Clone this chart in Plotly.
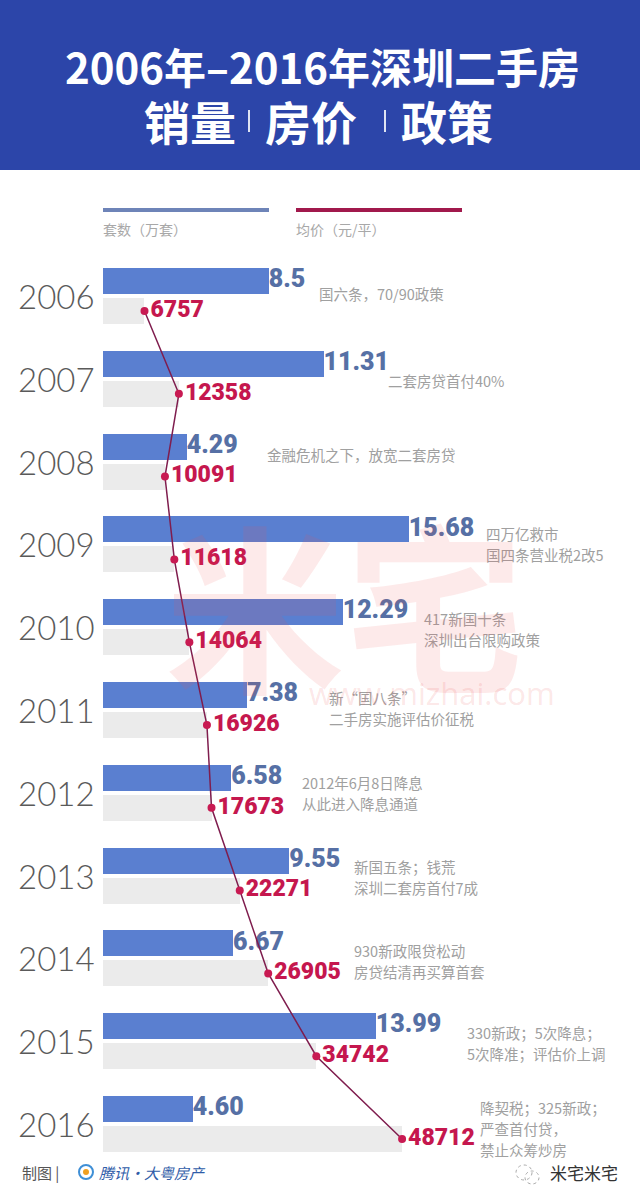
import plotly.graph_objects as go

W, H = 640, 1203

# ---------------- data ----------------
years = [2006, 2007, 2008, 2009, 2010, 2011, 2012, 2013, 2014, 2015, 2016]
year_labels = ["2006", "2007", "2008", "2009", "2010", "2011", "2012", "2013", "2014", "2015", "2016"]
sales = [8.5, 11.31, 4.29, 15.68, 12.29, 7.38, 6.58, 9.55, 6.67, 13.99, 4.60]
sales_labels = ["8.5", "11.31", "4.29", "15.68", "12.29", "7.38", "6.58", "9.55", "6.67", "13.99", "4.60"]
prices = [6757, 12358, 10091, 11618, 14064, 16926, 17673, 22271, 26905, 34742, 48712]
price_labels = ["6757", "12358", "10091", "11618", "14064", "16926", "17673", "22271", "26905", "34742", "48712"]
policies = [
    ["国六条，70/90政策"],
    ["二套房贷首付40%"],
    ["金融危机之下，放宽二套房贷"],
    ["四万亿救市", "国四条营业税2改5"],
    ["417新国十条", "深圳出台限购政策"],
    ["新“国八条”", "二手房实施评估价征税"],
    ["2012年6月8日降息", "从此进入降息通道"],
    ["新国五条；钱荒", "深圳二套房首付7成"],
    ["930新政限贷松动", "房贷结清再买算首套"],
    ["330新政；5次降息；", "5次降准；评估价上调"],
    ["降契税；325新政；", "严查首付贷，", "禁止众筹炒房"],
]
title_line1 = "2006年–2016年深圳二手房"
title_parts = ["销量", "房价", "政策"]
legend_labels = ["套数（万套）", "均价（元/平）"]

# ---------------- layout helpers ----------------
def px(x):
    return x / W

def py(y):
    return 1 - y / H

ROW0, ROWSTEP = 296, 82.8          # pixel centre of first row, row spacing
Y_TOP = 2006 - ROW0 / ROWSTEP
Y_BOT = 2006 + (H - ROW0) / ROWSTEP
ORIGIN = 103                       # pixel of the zero of both value axes
SALES_PX = 19.5                    # px per 万套
PRICE_PX = 0.00614                 # px per 元/平

BAR_W = 26 / ROWSTEP
BLUE_OFF = -28 / ROWSTEP
GREY_OFF = 2 / ROWSTEP

policy_x = [317, 386, 265, 484, 422, 327, 300, 352, 352, 465, 478]
policy_dy = [-3, 2, -7, -11, -9, -13, -10, -9, -8, -9, -17]

NUMF = "Roboto, Inter, sans-serif"
CJK = "Noto Sans CJK SC, sans-serif"

fig = go.Figure()

# blue bars (sales)
fig.add_trace(go.Bar(
    orientation="h", y=years, x=sales, width=BAR_W, offset=BLUE_OFF,
    marker=dict(color="#5a7fd0", line=dict(width=0)),
    xaxis="x", yaxis="y", hoverinfo="skip",
))
# grey bars (price)
fig.add_trace(go.Bar(
    orientation="h", y=years, x=prices, width=BAR_W, offset=GREY_OFF,
    marker=dict(color="#ebebeb", line=dict(width=0)),
    xaxis="x2", yaxis="y", hoverinfo="skip",
))
# sales value labels
fig.add_trace(go.Scatter(
    x=sales, y=[yr + BLUE_OFF + BAR_W / 2 for yr in years], mode="text",
    text=sales_labels, textposition="middle right",
    textfont=dict(family=NUMF, size=25, color="#5670a5", weight=900),
    xaxis="x", yaxis="y", cliponaxis=False, hoverinfo="skip",
))
# price line with dots + labels
fig.add_trace(go.Scatter(
    x=prices, y=[yr + GREY_OFF + BAR_W / 2 for yr in years], mode="lines+markers+text",
    line=dict(color="#7f1d4e", width=1.5),
    marker=dict(color="#c81a52", size=8),
    text=price_labels, textposition="middle right",
    textfont=dict(family=NUMF, size=23, color="#c5174e", weight=900),
    xaxis="x2", yaxis="y", cliponaxis=False, hoverinfo="skip",
))

annotations = []
shapes = []

# header band
shapes.append(dict(type="rect", xref="paper", yref="paper", x0=0, x1=1, y0=py(170), y1=1,
                   fillcolor="#2c45a9", line=dict(width=0), layer="below"))
annotations.append(dict(text=title_line1, xref="paper", yref="paper", x=px(322), y=py(65),
                        showarrow=False, xanchor="center", yanchor="middle",
                        font=dict(family=CJK, size=42, color="white", weight="bold")))
for t, cx in zip(title_parts, [190, 311, 447]):
    annotations.append(dict(text=t, xref="paper", yref="paper", x=px(cx), y=py(120),
                            showarrow=False, xanchor="center", yanchor="middle",
                            font=dict(family=CJK, size=46, color="white", weight="bold")))
for sx in [249, 385]:
    shapes.append(dict(type="line", xref="paper", yref="paper", x0=px(sx), x1=px(sx),
                       y0=py(110), y1=py(132), line=dict(color="rgba(255,255,255,0.85)", width=2)))

# legend
for (x0, x1, col), lab in zip([(103, 269, "#6e84b8"), (296, 462, "#a1194c")], legend_labels):
    shapes.append(dict(type="line", xref="paper", yref="paper", x0=px(x0), x1=px(x1),
                       y0=py(210), y1=py(210), line=dict(color=col, width=4)))
    annotations.append(dict(text=lab, xref="paper", yref="paper", x=px(x0 - 2), y=py(229),
                            showarrow=False, xanchor="left", yanchor="middle",
                            font=dict(family=CJK, size=14, color="#a8a8a8")))

# year labels
for yr, lab in zip(years, year_labels):
    annotations.append(dict(text=lab, xref="paper", yref="y", x=px(97), y=yr,
                            showarrow=False, xanchor="right", yanchor="middle",
                            font=dict(family="Lato, Open Sans, sans-serif", size=33,
                                      color="#5a5a5a", weight=300)))

# policy texts
for yr, lines, x, dy in zip(years, policies, policy_x, policy_dy):
    for i, line in enumerate(lines):
        annotations.append(dict(text=line, xref="paper", yref="y", x=px(x), y=yr,
                                yshift=-(dy + i * 21), showarrow=False,
                                xanchor="left", yanchor="middle",
                                font=dict(family=CJK, size=14.5, color="#a0a0a0")))

# watermark
annotations.append(dict(text="米宅", xref="paper", yref="paper", x=px(345), y=py(600),
                        showarrow=False, xanchor="center", yanchor="middle",
                        font=dict(family=CJK, size=180, color="rgba(235,80,80,0.12)", weight="bold")))
annotations.append(dict(text="www.mizhai.com", xref="paper", yref="paper", x=px(432), y=py(693),
                        showarrow=False, xanchor="center", yanchor="middle",
                        font=dict(family="Open Sans, sans-serif", size=31, color="rgba(235,80,80,0.15)")))

# footer
annotations.append(dict(text="制图 |", xref="paper", yref="paper", x=px(20), y=py(1172),
                        showarrow=False, xanchor="left", yanchor="middle",
                        font=dict(family=CJK, size=15, color="#555555")))
shapes.append(dict(type="circle", xref="paper", yref="paper", x0=px(79), x1=px(93),
                   y0=py(1179), y1=py(1165), fillcolor="rgba(255,255,255,0)",
                   line=dict(color="#3f8fd6", width=2)))
shapes.append(dict(type="circle", xref="paper", yref="paper", x0=px(83), x1=px(89),
                   y0=py(1175), y1=py(1169), fillcolor="#f0a020", line=dict(width=0)))
annotations.append(dict(text="<i>腾讯·大粤房产</i>", xref="paper", yref="paper", x=px(97), y=py(1172),
                        showarrow=False, xanchor="left", yanchor="middle",
                        font=dict(family=CJK, size=15, color="#2f5ca8")))
shapes.append(dict(type="circle", xref="paper", yref="paper", x0=px(516), x1=px(532),
                   y0=py(1180), y1=py(1165), line=dict(color="#aaaaaa", width=1, dash="dot")))
shapes.append(dict(type="circle", xref="paper", yref="paper", x0=px(525), x1=px(539),
                   y0=py(1184), y1=py(1171), line=dict(color="#aaaaaa", width=1, dash="dot")))
annotations.append(dict(text="米宅米宅", xref="paper", yref="paper", x=px(620), y=py(1172),
                        showarrow=False, xanchor="right", yanchor="middle",
                        font=dict(family=CJK, size=17, color="#333333")))

fig.update_layout(
    width=W, height=H, margin=dict(l=0, r=0, t=0, b=0),
    paper_bgcolor="white", plot_bgcolor="white",
    showlegend=False, barmode="overlay", bargap=0,
    xaxis=dict(range=[-ORIGIN / SALES_PX, (W - ORIGIN) / SALES_PX], visible=False, fixedrange=True),
    xaxis2=dict(range=[-ORIGIN / PRICE_PX, (W - ORIGIN) / PRICE_PX], visible=False,
                overlaying="x", fixedrange=True),
    yaxis=dict(range=[Y_BOT, Y_TOP], visible=False, fixedrange=True),
    annotations=annotations, shapes=shapes,
)

fig.write_html("out.html", config={"displayModeBar": False})
